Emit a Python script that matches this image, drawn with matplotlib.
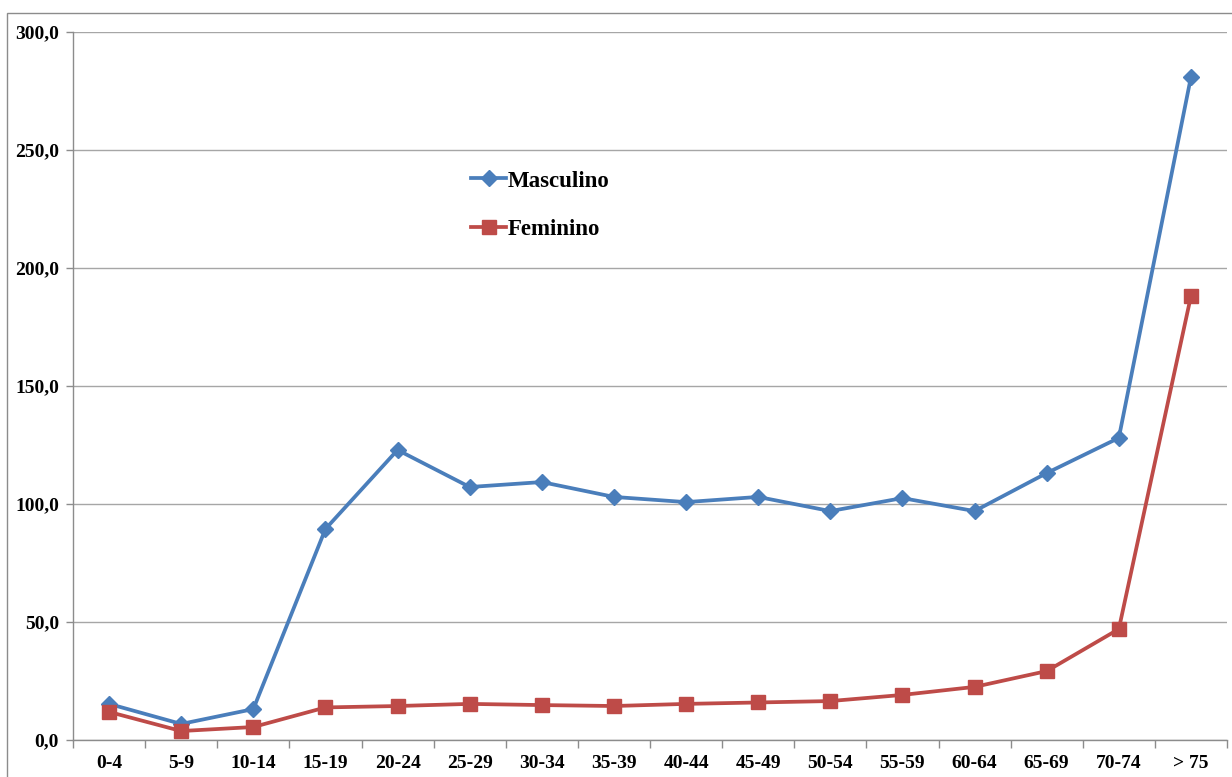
import matplotlib
matplotlib.use("Agg")
import matplotlib.pyplot as plt
from matplotlib.patches import Rectangle
import numpy as np

categories = ["0-4", "5-9", "10-14", "15-19", "20-24", "25-29", "30-34", "35-39",
              "40-44", "45-49", "50-54", "55-59", "60-64", "65-69", "70-74", "> 75"]
masculino = [15.3, 6.8, 13.1, 89.4, 122.9, 107.2, 109.3, 103.0, 100.8, 103.0,
             97.0, 102.5, 97.0, 113.1, 128.0, 280.9]
feminino = [11.9, 3.8, 5.5, 13.8, 14.4, 15.3, 14.8, 14.4, 15.3, 15.9,
            16.5, 19.1, 22.5, 29.2, 47.0, 188.1]
yticks = [0, 50, 100, 150, 200, 250, 300]

plt.rcParams['font.family'] = ['Liberation Serif', 'DejaVu Serif']
plt.rcParams['font.weight'] = 'bold'

W, H = 1232, 777
fig = plt.figure(figsize=(W / 100, H / 100), dpi=100)
ax = fig.add_axes([73 / W, 1 - 740 / H, (1227 - 73) / W, (740 - 32) / H])

# outer chart border
fig.patches.append(Rectangle((7 / W, -0.1), 1.2, 1.1 - 13 / H, transform=fig.transFigure,
                             fill=False, edgecolor='#8C8C8C', linewidth=1.0, clip_on=False))

x = np.arange(len(categories))
ax.plot(x, masculino, color='#4A7EBB', linewidth=2.7, marker='D', markersize=8.5,
        label='Masculino', zorder=3)
ax.plot(x, feminino, color='#BE4B48', linewidth=2.7, marker='s', markersize=9.5,
        label='Feminino', zorder=3)

ax.set_xlim(-0.5, len(categories) - 0.5)
ax.set_ylim(0, 300)
ax.set_yticks(yticks)
ax.set_yticklabels([f"{v:.1f}".replace('.', ',') for v in yticks])
ax.yaxis.grid(True, color='#A6A6A6', linewidth=1.0)
ax.set_axisbelow(True)

ax.set_xticks(x)
ax.set_xticklabels(categories)
ax.set_xticks(np.arange(-0.5, len(categories)), minor=True)
ax.tick_params(axis='x', which='major', length=0, pad=11, labelsize=14)
ax.tick_params(axis='x', which='minor', length=6, color='#8C8C8C', width=1)
ax.tick_params(axis='y', length=5, color='#8C8C8C', width=1, labelsize=14, pad=5)

for s in ['top', 'right']:
    ax.spines[s].set_visible(False)
for s in ['left', 'bottom']:
    ax.spines[s].set_color('#8C8C8C')
    ax.spines[s].set_linewidth(1.0)

leg = ax.legend(loc='upper left', bbox_to_anchor=(460 / W, 1 - 159 / H),
                bbox_transform=fig.transFigure, frameon=False,
                prop={'family': 'Liberation Serif', 'weight': 'bold', 'size': 16.5},
                handlelength=1.5, handletextpad=0.1, labelspacing=1.2, borderpad=0)

fig.savefig('out.png', dpi=100)
